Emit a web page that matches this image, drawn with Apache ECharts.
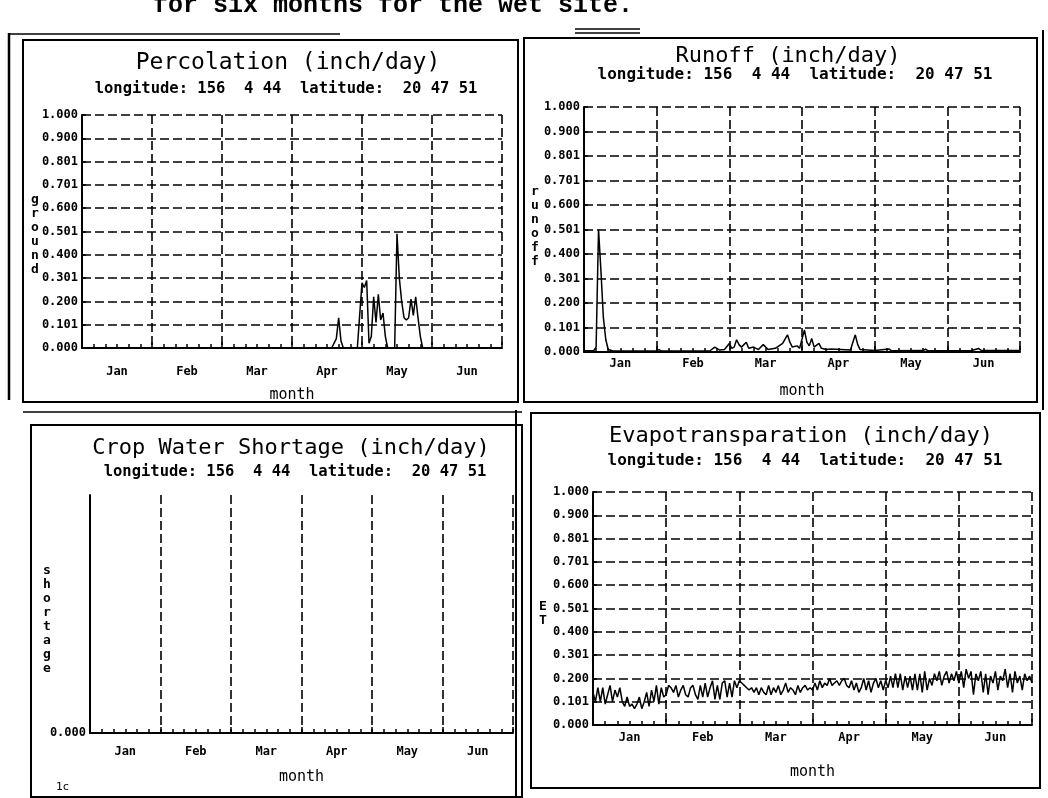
<!DOCTYPE html>
<html><head><meta charset="utf-8">
<script src="https://cdn.jsdelivr.net/npm/echarts@6/dist/echarts.min.js"></script>
<style>html,body{margin:0;padding:0;background:#fff}#c{width:1048px;height:798px}</style>
</head><body><div id="c"></div>
<script>
// ---------- data ----------
const months = ["Jan", "Feb", "Mar", "Apr", "May", "Jun"];
const yTickLabels = ["0.000","0.101","0.200","0.301","0.400","0.501","0.600","0.701","0.801","0.900","1.000"];
const headerText = "for six months for the wet site.";
const subtitleText = "longitude: 156  4 44  latitude:  20 47 51";

// [day, inch/day]
const percolation = [[0,0],[107,0],[108,0.02],[109,0.04],[110,0.13],[111,0.03],[112,0],[118,0],[119,0.14],[120,0.28],[121,0.26],[122,0.29],[123,0.02],[124,0.05],[125,0.22],[126,0.11],[127,0.23],[128,0.12],[129,0.15],[130,0.05],[131,0],[134,0],[135,0.49],[136,0.30],[137,0.20],[138,0.13],[139,0.12],[140,0.13],[141,0.21],[142,0.14],[143,0.22],[144,0.13],[145,0.05],[146,0],[180,0]];

const runoff = [[0,0.005],[4,0.005],[5,0.02],[6,0.50],[7,0.33],[8,0.14],[9,0.05],[10,0.01],[12,0.004],[30,0.004],[31,0.01],[32,0.004],[52,0.005],[54,0.02],[56,0.008],[58,0.01],[60,0.035],[61,0.015],[62,0.02],[63,0.05],[64,0.03],[65,0.02],[67,0.04],[68,0.015],[70,0.02],[72,0.01],[74,0.03],[76,0.01],[79,0.015],[82,0.035],[84,0.07],[85,0.04],[86,0.02],[88,0.025],[89,0.015],[91,0.09],[92,0.04],[93,0.025],[94,0.055],[95,0.02],[97,0.035],[98,0.015],[100,0.01],[102,0.012],[110,0.008],[111,0.04],[112,0.07],[113,0.03],[114,0.01],[120,0.006],[126,0.012],[127,0.005],[140,0.006],[141,0.012],[142,0.005],[160,0.006],[163,0.014],[164,0.006],[180,0.006]];

const shortage = [[0,0],[30,0],[60,0],[90,0],[120,0],[150,0],[180,0]];

// daily evapotranspiration, day 0 .. 180
const etDaily = [
 0.14,0.10,0.16,0.10,0.16,0.09,0.13,0.17,0.10,0.15,0.12,0.16,0.10,0.08,0.12,0.08,0.09,0.07,0.09,0.12,0.07,0.10,0.14,0.08,0.15,0.10,0.17,0.09,0.16,0.12,
 0.13,0.17,0.16,0.14,0.17,0.12,0.15,0.17,0.13,0.12,0.16,0.17,0.13,0.11,0.17,0.12,0.18,0.12,0.16,0.19,0.11,0.17,0.11,0.18,0.19,0.12,0.18,0.12,0.19,0.16,
 0.19,0.18,0.17,0.16,0.15,0.16,0.14,0.16,0.13,0.16,0.14,0.13,0.17,0.13,0.16,0.14,0.17,0.13,0.15,0.18,0.14,0.16,0.15,0.13,0.17,0.14,0.16,0.17,0.15,0.16,
 0.15,0.18,0.15,0.19,0.16,0.18,0.17,0.20,0.17,0.18,0.19,0.17,0.19,0.20,0.17,0.16,0.19,0.15,0.18,0.14,0.16,0.20,0.15,0.19,0.14,0.18,0.20,0.16,0.19,0.15,
 0.19,0.16,0.21,0.16,0.22,0.16,0.22,0.15,0.21,0.16,0.21,0.15,0.22,0.15,0.22,0.14,0.23,0.15,0.20,0.17,0.22,0.19,0.23,0.17,0.21,0.23,0.18,0.22,0.19,0.23,
 0.18,0.23,0.16,0.24,0.20,0.23,0.13,0.22,0.19,0.23,0.14,0.22,0.13,0.21,0.18,0.23,0.15,0.21,0.19,0.24,0.16,0.22,0.14,0.23,0.18,0.21,0.15,0.22,0.19,0.21,0.18
];

// ---------- chart ----------
const FONT = 'DejaVu Sans Mono';
const BLACK = '#000';
const dash = { color: BLACK, type: [9, 4], width: 1.6 };

const panels = [
  { grid: { left: 82, top: 115, width: 420, height: 233 }, title: "Percolation (inch/day)", tx: 288, ty: 63, tsize: 23,
    sx: 286, sy: 89, ssize: 15.5, yname: "ground", nx: 35, ny: 235, labelMargin: 18, nameGap: 40, data: percolation, full: true },
  { grid: { left: 584, top: 107, width: 436, height: 245 }, title: "Runoff (inch/day)", tx: 788, ty: 56, tsize: 22,
    sx: 795, sy: 75, ssize: 16, yname: "runoff", nx: 535, ny: 227, labelMargin: 6, nameGap: 32, data: runoff, full: true },
  { grid: { left: 90, top: 495, width: 423, height: 238 }, title: "Crop Water Shortage (inch/day)", tx: 291, ty: 448, tsize: 22,
    sx: 295, sy: 472, ssize: 15.5, yname: "shortage", nx: 47, ny: 620, labelMargin: 13, nameGap: 37, data: shortage, full: false },
  { grid: { left: 593, top: 492, width: 439, height: 233 }, title: "Evapotransparation (inch/day)", tx: 801, ty: 436, tsize: 22,
    sx: 805, sy: 461, ssize: 16, yname: "ET", nx: 543, ny: 614, labelMargin: 7, nameGap: 40, data: etDaily.map((v, i) => [i, v]), full: true }
];

const grids = [], xAxes = [], yAxes = [], series = [], graphics = [];

panels.forEach((p, i) => {
  grids.push(Object.assign({ containLabel: false }, p.grid));
  xAxes.push({
    type: 'value', gridIndex: i, min: 0, max: 180, interval: 30, position: 'bottom',
    axisLine: { show: true, onZero: false, lineStyle: { color: BLACK, width: 2 } },
    axisTick: { show: true, inside: true, length: 6, lineStyle: { color: BLACK, width: 1.5 } },
    minorTick: { show: true, splitNumber: 6, length: 4, lineStyle: { color: BLACK, width: 1.5 } },
    axisLabel: { show: false },
    splitLine: { show: true, lineStyle: dash }
  });
  xAxes.push({
    type: 'category', gridIndex: i, data: months, position: 'bottom', boundaryGap: true,
    axisLine: { show: false }, axisTick: { show: false }, splitLine: { show: false },
    axisLabel: { color: BLACK, fontFamily: FONT, fontWeight: 'bold', fontSize: 12, margin: p.labelMargin },
    name: 'month', nameLocation: 'middle', nameGap: p.nameGap,
    nameTextStyle: { color: BLACK, fontFamily: FONT, fontSize: 15 }
  });
  yAxes.push({
    type: 'value', gridIndex: i, min: 0, max: 1, interval: p.full ? 0.1 : 1,
    axisLine: { show: true, lineStyle: { color: BLACK, width: 2 } },
    axisTick: { show: p.full, inside: true, length: 4, lineStyle: { color: BLACK, width: 1.5 } },
    axisLabel: {
      color: BLACK, fontFamily: FONT, fontWeight: 'bold', fontSize: 12, margin: 4,
      formatter: v => (p.full || v === 0) ? yTickLabels[Math.round(v * 10)] : ''
    },
    splitLine: { show: p.full, lineStyle: dash }
  });
  series.push({
    type: 'line', xAxisIndex: 2 * i, yAxisIndex: i, data: p.data,
    symbol: 'none', showSymbol: false, animation: false,
    lineStyle: { color: BLACK, width: 1.5 }
  });
  graphics.push({ type: 'text', x: p.tx, y: p.ty, silent: true,
    style: { text: p.title, fill: BLACK, font: `${p.tsize}px "${FONT}"`, textAlign: 'center', textVerticalAlign: 'middle' } });
  graphics.push({ type: 'text', x: p.sx, y: p.sy, silent: true,
    style: { text: subtitleText, fill: BLACK, font: `bold ${p.ssize}px "${FONT}"`, textAlign: 'center', textVerticalAlign: 'middle' } });
  graphics.push({ type: 'text', x: p.nx, y: p.ny, silent: true,
    style: { text: p.yname.split('').join('\n'), fill: BLACK, font: `bold 13px "${FONT}"`, lineHeight: 14,
      textAlign: 'center', textVerticalAlign: 'middle' } });
});

// frames of the scanned page
const frame = { stroke: BLACK, fill: null, lineWidth: 2 };
const boxes = [
  [23, 40, 495, 362], [524, 38, 513, 364], [31, 425, 491, 372], [531, 413, 509, 375]
];
boxes.forEach(b => graphics.push({ type: 'rect', silent: true, shape: { x: b[0], y: b[1], width: b[2], height: b[3] }, style: frame }));
const lines = [
  [9, 33, 9, 400, 2.5], [1043, 30, 1043, 410, 2], [516, 410, 516, 798, 2], [10, 34, 340, 34, 1.5],
  [575, 29, 640, 29, 1.5], [575, 33, 640, 33, 1.5], [23, 412, 522, 412, 1.5]
];
lines.forEach(l => graphics.push({ type: 'line', silent: true, shape: { x1: l[0], y1: l[1], x2: l[2], y2: l[3] },
  style: { stroke: BLACK, lineWidth: l[4] } }));

graphics.push({ type: 'text', x: 153, y: 18, silent: true,
  style: { text: headerText, fill: BLACK, font: 'bold 25px "Liberation Mono"', textAlign: 'left', textVerticalAlign: 'bottom' } });
graphics.push({ type: 'text', x: 56, y: 787, silent: true,
  style: { text: '1c', fill: BLACK, font: '11px "DejaVu Sans Mono"', textAlign: 'left', textVerticalAlign: 'middle' } });

const chart = echarts.init(document.getElementById('c'), null, { renderer: 'canvas' });
chart.setOption({
  animation: false,
  backgroundColor: '#fff',
  grid: grids, xAxis: xAxes, yAxis: yAxes, series: series, graphic: graphics
});
</script>
</body></html>
